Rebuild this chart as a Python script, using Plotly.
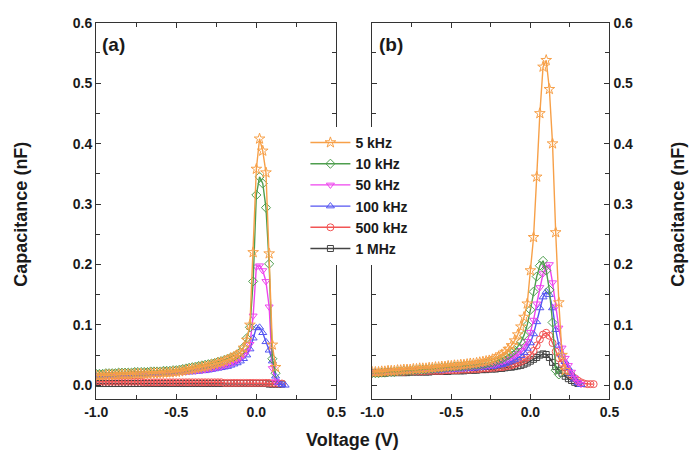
import plotly.graph_objects as go

# ---------------- data ----------------
V_a = [-1.00, -0.98, -0.96, -0.94, -0.92, -0.90, -0.88, -0.86, -0.84, -0.82,
       -0.80, -0.78, -0.76, -0.74, -0.72, -0.70, -0.68, -0.66, -0.64, -0.62,
       -0.60, -0.58, -0.56, -0.54, -0.52, -0.50, -0.48, -0.46, -0.44, -0.42,
       -0.40, -0.38, -0.36, -0.34, -0.32, -0.30, -0.28, -0.26, -0.24, -0.22,
       -0.20, -0.18, -0.16, -0.14, -0.12, -0.10, -0.08, -0.06, -0.04, -0.02,
       0.00, 0.02, 0.04, 0.06, 0.08, 0.10, 0.12, 0.14, 0.16, 0.18]

V_b = V_a + [0.20, 0.22, 0.24, 0.26, 0.28, 0.30, 0.32, 0.34, 0.36, 0.38, 0.40]

labels = ["5 kHz", "10 kHz", "50 kHz", "100 kHz", "500 kHz", "1 MHz"]

x_tickvals = [-1.0, -0.5, 0.0, 0.5]
x_ticktext = ["-1.0", "-0.5", "0.0", "0.5"]
y_tickvals = [0.0, 0.1, 0.2, 0.3, 0.4, 0.5, 0.6]
y_ticktext = ["0.0", "0.1", "0.2", "0.3", "0.4", "0.5", "0.6"]

# panel (a)
c5k_a = [0.016, 0.016, 0.016, 0.017, 0.017, 0.017, 0.017, 0.018, 0.018, 0.018,
         0.018, 0.018, 0.019, 0.019, 0.019, 0.019, 0.019, 0.020, 0.020, 0.020,
         0.020, 0.021, 0.021, 0.021, 0.022, 0.022, 0.023, 0.024, 0.025, 0.026,
         0.027, 0.028, 0.029, 0.030, 0.031, 0.032, 0.034, 0.035, 0.037, 0.038,
         0.040, 0.042, 0.045, 0.047, 0.050, 0.054, 0.062, 0.075, 0.100, 0.220,
         0.358, 0.408, 0.388, 0.352, 0.218, 0.067, 0.030]
c10k_a = [0.019, 0.019, 0.019, 0.020, 0.020, 0.020, 0.020, 0.021, 0.021, 0.021,
          0.021, 0.021, 0.022, 0.022, 0.022, 0.022, 0.022, 0.023, 0.023, 0.023,
          0.023, 0.024, 0.024, 0.024, 0.025, 0.025, 0.026, 0.027, 0.028, 0.029,
          0.030, 0.031, 0.032, 0.033, 0.034, 0.035, 0.036, 0.037, 0.039, 0.040,
          0.042, 0.044, 0.046, 0.048, 0.051, 0.055, 0.063, 0.078, 0.096, 0.172,
          0.315, 0.345, 0.334, 0.294, 0.201, 0.044, 0.020]
c50k_a = [0.016, 0.016, 0.016, 0.017, 0.017, 0.017, 0.017, 0.018, 0.018, 0.018,
          0.018, 0.018, 0.019, 0.019, 0.019, 0.019, 0.019, 0.020, 0.020, 0.020,
          0.020, 0.021, 0.021, 0.021, 0.021, 0.022, 0.022, 0.022, 0.023, 0.023,
          0.024, 0.024, 0.025, 0.025, 0.026, 0.027, 0.028, 0.029, 0.030, 0.031,
          0.033, 0.034, 0.036, 0.038, 0.041, 0.045, 0.050, 0.056, 0.068, 0.115,
          0.196, 0.198, 0.190, 0.172, 0.130, 0.028, 0.006]
c100k_a = [0.015, 0.015, 0.015, 0.016, 0.016, 0.016, 0.016, 0.017, 0.017, 0.017,
           0.017, 0.017, 0.018, 0.018, 0.018, 0.018, 0.018, 0.019, 0.019, 0.019,
           0.019, 0.020, 0.020, 0.020, 0.020, 0.021, 0.021, 0.021, 0.022, 0.022,
           0.022, 0.023, 0.023, 0.024, 0.024, 0.025, 0.026, 0.027, 0.028, 0.029,
           0.030, 0.031, 0.033, 0.035, 0.037, 0.040, 0.044, 0.050, 0.060, 0.078,
           0.095, 0.096, 0.087, 0.072, 0.058, 0.040, 0.015, 0.004, 0.001, 0.000]
c500k_a = [0.006, 0.006, 0.006, 0.006, 0.006, 0.006, 0.006, 0.006, 0.006, 0.006,
           0.006, 0.006, 0.006, 0.006, 0.006, 0.005, 0.005, 0.005, 0.005, 0.005,
           0.005, 0.005, 0.005, 0.005, 0.005, 0.005, 0.005, 0.005, 0.005, 0.005,
           0.005, 0.005, 0.005, 0.005, 0.005, 0.005, 0.005, 0.005, 0.005, 0.005,
           0.004, 0.004, 0.004, 0.004, 0.004, 0.004, 0.004, 0.004, 0.004, 0.004,
           0.004, 0.004, 0.004, 0.004, 0.004, 0.003, 0.003, 0.003, 0.003]
c1M_a = [0.003, 0.003, 0.003, 0.003, 0.003, 0.003, 0.003, 0.003, 0.003, 0.003,
         0.003, 0.003, 0.003, 0.003, 0.003, 0.003, 0.003, 0.003, 0.003, 0.003,
         0.003, 0.003, 0.003, 0.003, 0.003, 0.003, 0.003, 0.003, 0.003, 0.003,
         0.003, 0.003, 0.003, 0.003, 0.003, 0.003, 0.003, 0.003, 0.003, 0.003,
         0.003, 0.003, 0.003, 0.003, 0.003, 0.003, 0.003, 0.003, 0.003, 0.003,
         0.003, 0.003, 0.003, 0.003, 0.002, 0.002, 0.002, 0.002, 0.002]

# panel (b)
c5k_b = [0.022, 0.022, 0.022, 0.023, 0.023, 0.024, 0.024, 0.024, 0.025, 0.025,
         0.026, 0.026, 0.026, 0.027, 0.027, 0.028, 0.028, 0.028, 0.029, 0.029,
         0.030, 0.030, 0.031, 0.031, 0.032, 0.032, 0.033, 0.033, 0.034, 0.034,
         0.035, 0.036, 0.036, 0.037, 0.038, 0.039, 0.040, 0.041, 0.043, 0.045,
         0.048, 0.051, 0.055, 0.060, 0.066, 0.074, 0.084, 0.097, 0.113, 0.135,
         0.190, 0.245, 0.345, 0.450, 0.527, 0.538, 0.490, 0.400, 0.253, 0.137,
         0.050, 0.025]
c10k_b = [0.020, 0.020, 0.020, 0.021, 0.021, 0.022, 0.022, 0.022, 0.023, 0.023,
          0.024, 0.024, 0.024, 0.025, 0.025, 0.026, 0.026, 0.026, 0.027, 0.027,
          0.028, 0.028, 0.029, 0.029, 0.030, 0.030, 0.031, 0.031, 0.031, 0.032,
          0.032, 0.033, 0.033, 0.034, 0.034, 0.035, 0.036, 0.037, 0.038, 0.040,
          0.042, 0.044, 0.047, 0.050, 0.054, 0.058, 0.064, 0.072, 0.083, 0.100,
          0.125, 0.155, 0.180, 0.198, 0.206, 0.190, 0.158, 0.104, 0.025, 0.018]
c50k_b = [0.021, 0.021, 0.021, 0.022, 0.022, 0.022, 0.022, 0.023, 0.023, 0.023,
          0.023, 0.024, 0.024, 0.024, 0.024, 0.025, 0.025, 0.025, 0.025, 0.026,
          0.026, 0.026, 0.026, 0.027, 0.027, 0.027, 0.028, 0.028, 0.028, 0.029,
          0.029, 0.030, 0.030, 0.031, 0.031, 0.032, 0.033, 0.033, 0.034, 0.035,
          0.037, 0.039, 0.041, 0.043, 0.046, 0.049, 0.053, 0.058, 0.064, 0.073,
          0.088, 0.108, 0.135, 0.162, 0.185, 0.195, 0.200, 0.170, 0.130, 0.095,
          0.062, 0.045, 0.033, 0.022, 0.012, 0.005, 0.002]
c100k_b = [0.021, 0.021, 0.021, 0.021, 0.022, 0.022, 0.022, 0.022, 0.022, 0.023,
           0.023, 0.023, 0.023, 0.023, 0.024, 0.024, 0.024, 0.024, 0.024, 0.025,
           0.025, 0.025, 0.025, 0.026, 0.026, 0.026, 0.026, 0.027, 0.027, 0.027,
           0.028, 0.028, 0.028, 0.029, 0.029, 0.030, 0.030, 0.031, 0.031, 0.032,
           0.033, 0.034, 0.036, 0.038, 0.040, 0.042, 0.045, 0.049, 0.054, 0.061,
           0.070, 0.085, 0.105, 0.128, 0.146, 0.155, 0.150, 0.128, 0.092, 0.066,
           0.050, 0.039, 0.029, 0.019, 0.010, 0.004, 0.001]
c500k_b = [0.021, 0.021, 0.021, 0.021, 0.021, 0.022, 0.022, 0.022, 0.022, 0.022,
           0.022, 0.023, 0.023, 0.023, 0.023, 0.023, 0.023, 0.024, 0.024, 0.024,
           0.024, 0.024, 0.024, 0.025, 0.025, 0.025, 0.025, 0.025, 0.026, 0.026,
           0.026, 0.026, 0.027, 0.027, 0.027, 0.028, 0.028, 0.028, 0.029, 0.029,
           0.030, 0.030, 0.031, 0.032, 0.033, 0.035, 0.037, 0.039, 0.042, 0.046,
           0.050, 0.057, 0.066, 0.076, 0.084, 0.087, 0.082, 0.070, 0.056, 0.045,
           0.037, 0.030, 0.023, 0.017, 0.012, 0.008, 0.005, 0.003, 0.002, 0.002,
           0.002]
c1M_b = [0.020, 0.020, 0.020, 0.020, 0.020, 0.021, 0.021, 0.021, 0.021, 0.021,
         0.021, 0.021, 0.022, 0.022, 0.022, 0.022, 0.022, 0.022, 0.022, 0.023,
         0.023, 0.023, 0.023, 0.023, 0.023, 0.024, 0.024, 0.024, 0.024, 0.024,
         0.025, 0.025, 0.025, 0.025, 0.026, 0.026, 0.026, 0.027, 0.027, 0.027,
         0.028, 0.028, 0.029, 0.030, 0.030, 0.031, 0.032, 0.033, 0.035, 0.037,
         0.040, 0.043, 0.046, 0.050, 0.052, 0.051, 0.046, 0.038, 0.031, 0.025,
         0.020, 0.015, 0.011, 0.008, 0.005, 0.003]

series_a = [c5k_a, c10k_a, c50k_a, c100k_a, c500k_a, c1M_a]
series_b = [c5k_b, c10k_b, c50k_b, c100k_b, c500k_b, c1M_b]

# ---------------- styles ----------------
colors = ["#F7A048", "#4E9E4E", "#EE44EE", "#5555F2", "#F25555", "#444444"]
symbols = ["star-open", "diamond-open", "triangle-down-open",
           "triangle-up-open", "circle-open", "square-open"]
sizes = [8, 7, 7, 7, 7, 6]

FONT = "Liberation Sans, Arial, sans-serif"
TXT = "#1a1a1a"

fig = go.Figure()

for i in reversed(range(6)):
    ya = series_a[i]
    fig.add_trace(go.Scatter(
        x=V_a[:len(ya)], y=ya, mode="lines+markers", name=labels[i],
        line=dict(color=colors[i], width=1.4),
        marker=dict(symbol=symbols[i], size=sizes[i], color=colors[i],
                    line=dict(width=1)),
        xaxis="x", yaxis="y", showlegend=True, legendrank=i + 1))
for i in reversed(range(6)):
    yb = series_b[i]
    fig.add_trace(go.Scatter(
        x=V_b[:len(yb)], y=yb, mode="lines+markers", name=labels[i],
        line=dict(color=colors[i], width=1.4),
        marker=dict(symbol=symbols[i], size=sizes[i], color=colors[i],
                    line=dict(width=1)),
        xaxis="x2", yaxis="y2", showlegend=False))

W, H = 695, 462
axcommon = dict(
    showline=True, linecolor="#333333", linewidth=1.3, mirror="allticks",
    ticks="inside", ticklen=5, tickwidth=1.2, tickcolor="#333333",
    showgrid=False, zeroline=False, tickmode="array",
    tickfont=dict(family=FONT, size=14, color=TXT, weight="bold"),
)
xcommon = dict(axcommon, range=[-1.0, 0.5], tickvals=x_tickvals,
               ticktext=x_ticktext,
               minor=dict(dtick=0.25, tick0=-1.0, ticks="inside", ticklen=4,
                          tickwidth=1.2, tickcolor="#333333"))
ycommon = dict(axcommon, range=[-0.0228, 0.6], tickvals=y_tickvals,
               ticktext=y_ticktext,
               minor=dict(dtick=0.05, tick0=0, ticks="inside", ticklen=4,
                          tickwidth=1.2, tickcolor="#333333"))

y0 = (H - 398) / H
y1 = (H - 15) / H

fig.update_layout(
    width=W, height=H,
    margin=dict(l=0, r=0, t=0, b=0),
    paper_bgcolor="white", plot_bgcolor="white",
    xaxis=dict(xcommon, domain=[87 / W, 335 / W], anchor="y"),
    yaxis=dict(ycommon, domain=[y0, y1], anchor="x"),
    xaxis2=dict(xcommon, domain=[372 / W, 617 / W], anchor="y2"),
    yaxis2=dict(ycommon, domain=[y0, y1], anchor="x2", side="right"),
    legend=dict(x=303 / W, y=(H - 121) / H, xanchor="left", yanchor="top",
                bgcolor="white", borderwidth=0,
                font=dict(family=FONT, size=14, color=TXT, weight="bold"),
                itemwidth=40, tracegroupgap=0,
                traceorder="normal"),
    showlegend=True,
    font=dict(family=FONT),
    annotations=[
        dict(text="(a)", x=91 / W, y=(H - 37) / H, xref="paper", yref="paper",
             xanchor="left", yanchor="middle", showarrow=False,
             font=dict(family=FONT, size=19, color=TXT, weight="bold")),
        dict(text="(b)", x=377 / W, y=(H - 37) / H, xref="paper", yref="paper",
             xanchor="left", yanchor="middle", showarrow=False,
             font=dict(family=FONT, size=19, color=TXT, weight="bold")),
        dict(text="Voltage (V)", x=352 / W, y=(H - 440) / H, xref="paper",
             yref="paper", xanchor="center", yanchor="middle", showarrow=False,
             font=dict(family=FONT, size=18, color=TXT, weight="bold")),
        dict(text="Capacitance (nF)", x=22 / W, y=(H - 210) / H, xref="paper",
             yref="paper", xanchor="center", yanchor="middle", showarrow=False,
             textangle=-90, xshift=-12,
             font=dict(family=FONT, size=18, color=TXT, weight="bold")),
        dict(text="Capacitance (nF)", x=680 / W, y=(H - 210) / H, xref="paper",
             yref="paper", xanchor="center", yanchor="middle", showarrow=False,
             textangle=-90, xshift=8,
             font=dict(family=FONT, size=18, color=TXT, weight="bold")),
    ],
)

fig.write_html("out.html")
